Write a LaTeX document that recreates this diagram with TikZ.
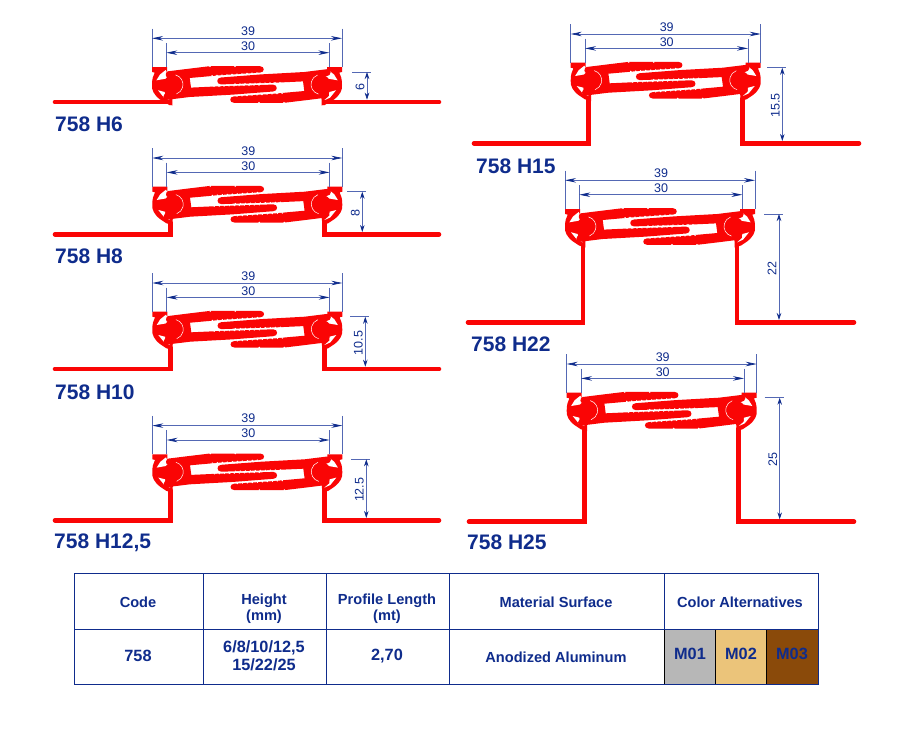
\documentclass[tikz,border=0pt]{standalone}
\usepackage{fontspec}
\setmainfont{Liberation Sans}
\usetikzlibrary{arrows.meta}
\definecolor{navytext}{HTML}{0F2C8C}
\definecolor{dimblue}{HTML}{5468B4}
\definecolor{profilered}{HTML}{FA0505}
\definecolor{silverM}{HTML}{B7B7B7}
\definecolor{goldM}{HTML}{EBC47A}
\definecolor{brownM}{HTML}{8A4A0A}
\tikzset{
	dimline/.style={draw=dimblue, line width=0.7pt},
	dimarrow/.style={dimline, {Stealth[length=11pt,width=4.5pt,color=navytext]}-{Stealth[length=11pt,width=4.5pt,color=navytext]}},
	dimtext/.style={text=navytext, font=\fontsize{12.5}{12.5}\selectfont, inner sep=0pt},
	floorline/.style={draw=profilered, line width=4.6pt, line join=miter, line cap=round},
	codelabel/.style={text=navytext, font=\fontsize{21}{21}\selectfont\bfseries, inner sep=0pt, anchor=west},
	cellgrid/.style={draw=navytext, line width=1pt},
	celltext/.style={text=navytext, font=\fontsize{14.6}{14.6}\selectfont\bfseries, inner sep=0pt},
	cellvalue/.style={text=navytext, font=\fontsize{16.3}{16.3}\selectfont\bfseries, inner sep=0pt},
}
% one half of the clamp body, local origin at top left of the 39 width
\def\bodyhalf{
	\fill[profilered] (16,4.3) -- (37.7,1.6) -- (57.7,-0.8) -- (108,-0.8) .. controls (113,-0.8) and (113,5.6) .. (108,5.6)
		-- (67.7,8.3) -- (37.7,11) -- (39,20.6) -- (67.7,19.3) -- (121,17.6) .. controls (126,17.6) and (126,24.5) .. (121,24.5)
		-- (81,27.6) -- (37.7,30) -- (15,32.8) .. controls (10,33.5) and (10,26) .. (16,25.6)
		-- (26,25) -- (26,10) -- (16,10.5) .. controls (13,10.5) and (13,5) .. (16,4.3) -- cycle;
	\fill[profilered] (21,17.6) circle (9.5);
	\draw[white, line width=0.5pt] (21,17.6) ++(-75:10) arc (-75:70:10);
	\foreach \tooth in {0,...,9} {
		\fill[white] ({60+5*\tooth},{8.8-0.33*\tooth}) circle (0.8);
		\fill[white] ({62+5*\tooth},{19.5-0.16*\tooth}) circle (0.7);
	}
	\fill[white] (58,-0.8) circle (0.9);
	\fill[white] (83,-0.8) circle (0.9);
}
% one cap with its C shape and two white wedges
\def\caphalf{
	\fill[profilered] (0,0) -- (15,0) -- (15,5) -- (22,18) -- (20.3,34) -- (20.3,38.5) -- (14,36.5) -- (8,32.5)
		.. controls (2,28) and (-0.5,23) .. (0,18) .. controls (0,12) and (1,9) .. (2.7,5.6) -- (0,5) -- cycle;
	\fill[white] (13.7,3) -- (8,7.5) -- (4.4,13.3) -- (14.4,11.6) -- (17,9.7) -- cycle;
	\fill[white] (6,23.3) -- (12.7,25) -- (13,29) -- (18,33.4) -- (12,30.7) -- cycle;
}
% #1 name, #2 x, #3 top, #4 floor, #5 floor left, #6 floor right, #7 height text, #8 arrow offset
\def\clampprofile#1#2#3#4#5#6#7#8{
	\begin{scope}[shift={(#2,#3)}]
		\pgfmathsetmacro{\rise}{#4-#3}
		\caphalf
		\begin{scope}[shift={(190,0)},xscale=-1]
			\caphalf
		\end{scope}
		\draw[floorline] ({#5-#2},\rise) -- (18,\rise) -- (18,36);
		\draw[floorline] ({#6-#2},\rise) -- (172,\rise) -- (172,36);
		\bodyhalf
		\begin{scope}[shift={(190,35)},xscale=-1,yscale=-1]
			\bodyhalf
		\end{scope}
		\draw[dimline] (0,-38.5) -- (0,0);
		\draw[dimline] (190,-38.5) -- (190,0);
		\draw[dimline] (14.3,-24) -- (14.3,0);
		\draw[dimline] (177.3,-24) -- (177.3,0);
		\draw[dimarrow] (0,-28.7) -- (190,-28.7);
		\draw[dimarrow] (14.3,-14.3) -- (177.3,-14.3);
		\node[dimtext] (w39#1) at (96,-35.7) {39};
		\node[dimtext] (w30#1) at (96,-20.7) {30};
		\draw[dimline] ({190+#8-15},5) -- ({190+#8+4},5);
		\draw[dimarrow, {Stealth[length=7pt,width=4.5pt,color=navytext]}-{Stealth[length=7pt,width=4.5pt,color=navytext]}] ({190+#8},5) -- ({190+#8},{\rise-2.3});
		\node[dimtext, rotate=90] (h#1) at ({190+#8-7},{(5+\rise)/2}) {#7};
	\end{scope}
}

\begin{document}
\begin{tikzpicture}[x=1pt,y=-1pt]
	\useasboundingbox (0,0) rectangle (900,747);
	\fill[white] (0,0) rectangle (900,747);

	\clampprofile{six}{152}{67}{102}{55}{439}{6}{25}
	\clampprofile{eight}{152.3}{186.7}{234.3}{55}{439}{8}{20}
	\clampprofile{ten}{152.3}{311.7}{369}{55}{439}{10.5}{23}
	\clampprofile{twelve}{152.3}{454.3}{520.3}{55}{439}{12.5}{24}
	\clampprofile{fifteen}{570.7}{62.7}{143.3}{474}{859}{15.5}{21.6}
	\clampprofile{twentytwo}{565}{209}{322.3}{468}{854}{22}{24}
	\clampprofile{twentyfive}{566.7}{392.7}{521.7}{469}{854}{25}{23}

	\node[codelabel] (codesix) at (55,124.5) {758 H6};
	\node[codelabel] (codeeight) at (55,256.5) {758 H8};
	\node[codelabel] (codeten) at (55,392.5) {758 H10};
	\node[codelabel] (codetwelve) at (54,543) {758 H12,5};
	\node[codelabel] (codefifteen) at (476,166) {758 H15};
	\node[codelabel] (codetwentytwo) at (471,344) {758 H22};
	\node[codelabel] (codetwentyfive) at (467,542) {758 H25};

	%%%%% table %%%%%
	\fill[silverM] (664,629) rectangle (715,684);
	\fill[goldM] (715,629) rectangle (766,684);
	\fill[brownM] (766,629) rectangle (818,684);
	\draw[black, line width=0.7pt] (664,629) rectangle (818,684);
	\draw[black, line width=0.7pt] (715,629) -- (715,684);
	\draw[black, line width=0.7pt] (766,629) -- (766,684);
	\draw[cellgrid] (74,573) rectangle (818,684);
	\draw[cellgrid] (74,629) -- (818,629);
	\draw[cellgrid] (203,573) -- (203,684);
	\draw[cellgrid] (326,573) -- (326,684);
	\draw[cellgrid] (449,573) -- (449,684);
	\draw[cellgrid] (664,573) -- (664,629);

	\node[celltext] (headcode) at (138,602) {Code};
	\node[celltext] (headheight) at (264,601) {Height};
	\node[celltext] (headmm) at (264,617) {(mm)};
	\node[celltext] (headlength) at (387,601) {Profile Length};
	\node[celltext] (headmt) at (387,617) {(mt)};
	\node[celltext] (headsurface) at (556,602) {Material Surface};
	\node[celltext] (headcolor) at (740,602) {Color Alternatives};
	\node[cellvalue] (valcode) at (138,656) {758};
	\node[cellvalue] (valheightA) at (264,648) {6/8/10/12,5};
	\node[cellvalue] (valheightB) at (264,665) {15/22/25};
	\node[cellvalue] (vallength) at (387,656) {2,70};
	\node[celltext] (valsurface) at (556,657) {Anodized Aluminum};
	\node[cellvalue] (colorA) at (690,654) {M01};
	\node[cellvalue] (colorB) at (741,654) {M02};
	\node[cellvalue] (colorC) at (792,654) {M03};
\end{tikzpicture}
\end{document}
